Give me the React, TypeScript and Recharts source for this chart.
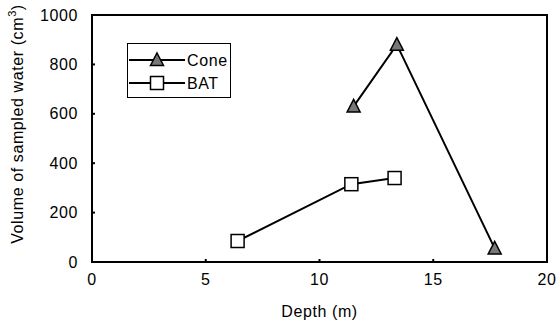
import { ScatterChart, Scatter, XAxis, YAxis, ReferenceArea } from "recharts";

const coneDepth = [11.5, 13.4, 17.7];
const coneVolume = [630, 880, 55];
const batDepth = [6.4, 11.4, 13.3];
const batVolume = [85, 315, 340];
const xTicks = [0, 5, 10, 15, 20];
const yTicks = [0, 200, 400, 600, 800, 1000];

const cone = coneDepth.map((d, i) => ({ depth: d, volume: coneVolume[i] }));
const bat = batDepth.map((d, i) => ({ depth: d, volume: batVolume[i] }));

const FONT = "'Liberation Sans', Arial, sans-serif";
const text = { fontSize: 16, fontFamily: FONT, letterSpacing: 0.6 };

function Triangle({ cx, cy }: any) {
  return (
    <polygon
      points={`${cx},${cy - 7} ${cx + 6.5},${cy + 5.5} ${cx - 6.5},${cy + 5.5}`}
      fill="#777"
      stroke="#000"
      strokeWidth={1.5}
    />
  );
}

function Square({ cx, cy }: any) {
  return <rect x={cx - 6.5} y={cy - 6.5} width={13} height={13} fill="#fff" stroke="#000" strokeWidth={1.5} />;
}

// legend box sits inside the plot, top-left
function LegendBox() {
  const row = (name: string, y: number, marker: JSX.Element) => (
    <g>
      <line x1={2} x2={58} y1={y} y2={y} stroke="#000" strokeWidth={2} />
      {marker}
      <text x={60} y={y + 6} fill="#000" {...text}>
        {name}
      </text>
    </g>
  );
  return (
    <svg
      width={104}
      height={55}
      style={{ position: "absolute", left: 127, top: 43, display: "block" }}
    >
      <rect x={0.5} y={0.5} width={103} height={54} fill="#fff" stroke="#000" strokeWidth={1} />
      {row("Cone", 17, <Triangle cx={30} cy={17} />)}
      {row("BAT", 40, <Square cx={30} cy={40} />)}
    </svg>
  );
}

function YLabel() {
  return (
    <text transform="translate(23,124) rotate(-90)" textAnchor="middle" fill="#000" {...text}>
      Volume of sampled water (cm<tspan dy={-7} fontSize={11}>3</tspan>
      <tspan dy={7}>)</tspan>
    </text>
  );
}

export default function App() {
  const tick = { fill: "#000", ...text };
  return (
    <div style={{ position: "absolute", left: 0, top: 0, width: 558, height: 327, background: "#fff" }}>
      <ScatterChart width={558} height={327} margin={{ top: 15, right: 11, bottom: 0, left: 0 }}>
        <XAxis
          type="number"
          dataKey="depth"
          domain={[0, 20]}
          ticks={xTicks}
          height={65}
          stroke="#000"
          strokeWidth={2}
          tick={tick}
          tickSize={-3}
          tickMargin={15}
          label={{ value: "Depth (m)", position: "insideBottom", offset: 10, fill: "#000", ...text }}
        />
        <YAxis
          type="number"
          dataKey="volume"
          domain={[0, 1000]}
          ticks={yTicks}
          width={92}
          stroke="#000"
          strokeWidth={2}
          tick={tick}
          tickSize={-3}
          tickMargin={17}
          label={<YLabel />}
        />
        <ReferenceArea x1={0} x2={20} y1={0} y2={1000} fill="none" stroke="#000" strokeWidth={2} ifOverflow="visible" />
        <Scatter
          name="Cone"
          data={cone}
          line={{ stroke: "#000", strokeWidth: 2 }}
          lineType="joint"
          shape={<Triangle />}
          isAnimationActive={false}
        />
        <Scatter
          name="BAT"
          data={bat}
          line={{ stroke: "#000", strokeWidth: 2 }}
          lineType="joint"
          shape={<Square />}
          isAnimationActive={false}
        />
      </ScatterChart>
      <LegendBox />
    </div>
  );
}
